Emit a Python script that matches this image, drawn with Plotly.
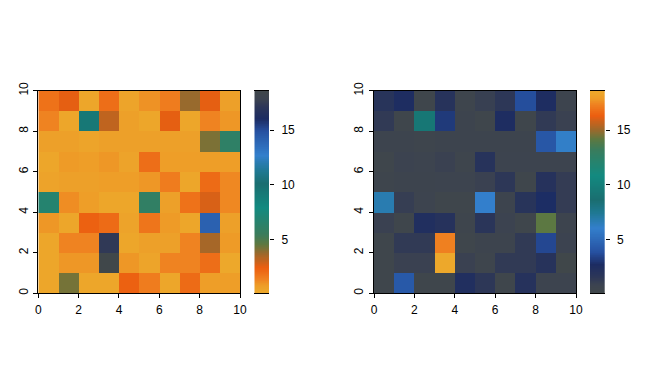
import numpy as np
import plotly.graph_objects as go

# 10x10 matrix, rows from bottom (y=0) to top (y=9), columns x=0..9
row0 = [0.3, 4.2, 0.3, 0.3, 2.3, 1.5, 0.3, 2.0, 0.7, 0.7]
row1 = [0.3, 0.9, 0.9, 18.6, 0.9, 0.4, 1.3, 1.3, 1.9, 0.07]
row2 = [0.3, 1.3, 1.3, 17.3, 0.3, 0.6, 0.6, 1.3, 3.5, 0.8]
row3 = [0.9, 0.3, 2.3, 2.0, 0.5, 1.7, 0.8, 0.3, 14.1, 0.6]
row4 = [6.7, 1.1, 0.7, 0.3, 0.3, 6.0, 0.6, 1.8, 2.7, 1.2]
row5 = [0.5, 0.6, 0.6, 0.7, 0.7, 0.9, 1.5, 0.3, 2.0, 1.2]
row6 = [0.3, 0.8, 0.7, 0.9, 0.5, 1.9, 0.7, 0.7, 0.7, 0.7]
row7 = [0.6, 0.6, 0.4, 0.6, 0.6, 0.6, 0.6, 0.6, 4.1, 6.1]
row8 = [1.3, 0.3, 9.3, 3.1, 0.6, 0.3, 2.5, 0.3, 1.3, 0.9]
row9 = [1.8, 2.5, 0.3, 1.9, 0.4, 1.0, 1.5, 3.7, 2.5, 0.6]
z = [row0, row1, row2, row3, row4, row5, row6, row7, row8, row9]

x_centers = [0.5, 1.5, 2.5, 3.5, 4.5, 5.5, 6.5, 7.5, 8.5, 9.5]
y_centers = [0.5, 1.5, 2.5, 3.5, 4.5, 5.5, 6.5, 7.5, 8.5, 9.5]
axis_ticks = [0, 2, 4, 6, 8, 10]
bar_ticks = [5, 10, 15]

colorscale = [
    [0.00, "#EDA82B"],
    [0.02, "#EDA42A"],
    [0.04, "#EE9B27"],
    [0.07, "#EF8020"],
    [0.125, "#EC5E10"],
    [0.19, "#A0682A"],
    [0.24, "#5E7840"],
    [0.29, "#3A7C5C"],
    [0.42, "#128A80"],
    [0.54, "#1A6E70"],
    [0.60, "#1E7890"],
    [0.68, "#337FCC"],
    [0.80, "#2650A0"],
    [0.86, "#1C2C62"],
    [0.92, "#2C3658"],
    [0.96, "#3C4350"],
    [1.00, "#40474A"],
]

zmin = float(np.min(z))
zmax = float(np.max(z))
ramp = np.linspace(zmin, zmax, 300)

FONT = dict(family="Liberation Sans, Arial, sans-serif", size=12, color="black")

fig = go.Figure()

# heatmaps
fig.add_trace(go.Heatmap(z=z, x=x_centers, y=y_centers, colorscale=colorscale,
                         zmin=zmin, zmax=zmax, showscale=False, xaxis="x", yaxis="y"))
fig.add_trace(go.Heatmap(z=z, x=x_centers, y=y_centers, colorscale=colorscale,
                         reversescale=True, zmin=zmin, zmax=zmax, showscale=False,
                         xaxis="x3", yaxis="y4"))
# colour bars
fig.add_trace(go.Heatmap(z=[[v] for v in ramp], x=[0], y=ramp, colorscale=colorscale,
                         zmin=zmin, zmax=zmax, showscale=False, xaxis="x2", yaxis="y2"))
fig.add_trace(go.Heatmap(z=[[v] for v in ramp], x=[0], y=ramp, colorscale=colorscale,
                         reversescale=True, zmin=zmin, zmax=zmax, showscale=False,
                         xaxis="x4", yaxis="y5"))

W, H = 672, 384
OFF = 8  # page body margin
def px_x(a, b):
    return [(a - OFF) / W, (b - OFF) / W]
def px_y(top, bottom):
    return [1 - (bottom - OFF) / H, 1 - (top - OFF) / H]

ydom = px_y(90.7, 293.3)

main_x = dict(range=[0, 10], tickvals=axis_ticks, ticks="outside", ticklen=4,
              tickcolor="black", showline=True, linecolor="black", linewidth=1,
              mirror=True, showgrid=False, zeroline=False, tickfont=FONT,
              ticklabelstandoff=1, automargin=False)
main_y = dict(range=[0, 10], tickvals=axis_ticks, ticks="outside", ticklen=4,
              tickcolor="black", showline=True, linecolor="black", linewidth=1,
              mirror=True, showgrid=False, zeroline=False, tickfont=FONT,
              tickangle=-90, ticklabelstandoff=1, automargin=False)
cb_x = dict(range=[-0.5, 0.5], showticklabels=False, ticks="", showline=True,
            linecolor="black", linewidth=1, mirror=True, showgrid=False,
            zeroline=False, automargin=False)
cb_y = dict(range=[zmin, zmax], tickvals=bar_ticks, ticks="outside", ticklen=4,
            tickcolor="black", side="right", showline=False, showgrid=False,
            zeroline=False, tickfont=FONT, ticklabelstandoff=5, automargin=False)
cb_y_in = dict(range=[zmin, zmax], tickvals=bar_ticks, ticks="inside", ticklen=15,
               tickcolor="black", side="left", showline=False, showgrid=False,
               zeroline=False, showticklabels=False, automargin=False)

fig.update_layout(
    template="none",
    width=W, height=H, margin=dict(l=0, r=0, t=0, b=0),
    paper_bgcolor="white", plot_bgcolor="white", showlegend=False,
    xaxis=dict(main_x, domain=px_x(38.3, 240), anchor="y"),
    yaxis=dict(main_y, domain=ydom, anchor="x"),
    xaxis2=dict(cb_x, domain=px_x(254.3, 269), anchor="y2"),
    yaxis2=dict(cb_y, domain=ydom, anchor="x2"),
    yaxis3=dict(cb_y_in, overlaying="y2", anchor="x2"),
    xaxis3=dict(main_x, domain=px_x(374, 576), anchor="y4"),
    yaxis4=dict(main_y, domain=ydom, anchor="x3"),
    xaxis4=dict(cb_x, domain=px_x(590, 604.7), anchor="y5"),
    yaxis5=dict(cb_y, domain=ydom, anchor="x4"),
    yaxis6=dict(cb_y_in, overlaying="y5", anchor="x4"),
)

fig.write_html("out.html")
